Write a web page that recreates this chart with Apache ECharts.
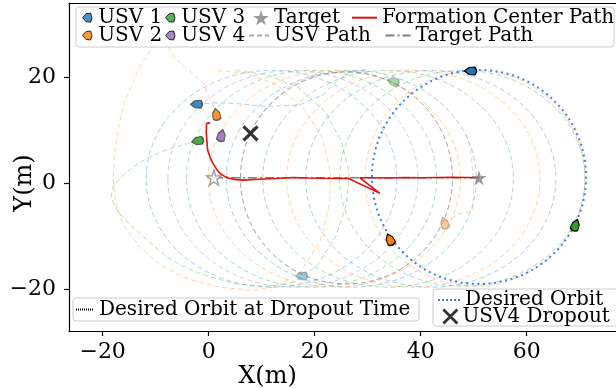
<!DOCTYPE html>
<html><head><meta charset="utf-8">
<script src="https://cdn.jsdelivr.net/npm/echarts@6/dist/echarts.min.js"></script>
<style>html,body{margin:0;padding:0;background:#fff}#c{width:616px;height:389px}</style>
</head><body><div id="c"></div>
<script>
// ---------------- data ----------------
const xTicks = [-20, 0, 20, 40, 60];
const yTicks = [-20, 0, 20];

const targetPath = [[1.0, 1.06], [51.0, 1.06]];
const targetStart = [1.0, 1.06];
const targetEnd = [51.0, 1.06];

const formationPath = [[0.3,11.4],[-0.4,11.3],[-0.45,9.5],[-0.2,6.3],[0.3,4.8],[0.8,3.8],[1.4,2.8],[2.1,1.9],[3.0,1.3],[4.0,0.9],[5.2,0.7],[6.5,0.6],[9.5,0.75],[12.5,0.9],[15.9,1.1],[18.5,1.0],[21.5,0.95],[24.7,0.9],[26.3,0.95],[32.3,-1.9],[28.5,1.06],[31,1.05],[34,1.0],[37,1.1],[40,1.05],[43,1.1],[46,1.15],[49,1.1],[51,1.06]];

const dropoutPoint = [7.9, 9.4];

// orbit extents: [xLeft, xRight, yBottom, yTop]
const desiredOrbit = [[30.8, 71.2, -19.0, 21.4]];
const dropoutOrbit = [[6.0, 46.0, -19.0, 21.0]];

// USV path loops: [xLeft, xRight, yBottom, yTop]
const usv1Loops = [[-11.8,35.5,-19.6,21.3],[3.3,50.5,-19.6,21.3],[18.3,65.5,-19.6,21.3]];
const usv2Loops = [[-0.1,47.5,-19.6,21.3],[14.7,62.5,-19.6,21.3],[29.5,71.0,-19.4,21.3]];
const usv3Loops = [[-4.2,43.0,-19.6,21.3],[10.2,57.5,-19.6,21.3],[24.7,71.0,-19.4,21.3]];
const usv4Loops = [[-7.7,39.5,-19.6,21.3]];

// USV path transient segments
const usv1Track = [[-2.3,14.9],[1,15.2],[4.6,15.1],[10.9,14.5],[17.2,14.8],[21.6,16.7],[24.1,19.2],[26.6,21],[30,21.5]];
const usv2Track = [[1.45,13],[0.5,15.5],[-1.1,18.9],[-3.5,21.2],[-6.1,23.3],[-7.5,25.5],[-8.5,27.2],[-10,26.5],[-11.1,25],[-13,22],[-14.5,18.5],[-15.8,15.7],[-17.1,10],[-17.8,5],[-18,0.6],[-17.5,-4],[-16,-8],[-13,-12],[-9,-15.5],[-4,-18],[2,-19.6],[8,-20.2],[13,-19.5],[17.5,-16.5],[21,-11],[22.8,-4],[23,2],[21.5,8.5],[18,14],[13,18.5],[7,20.8],[1,21.3]];
const usv2Shift = [[44.5,-7.5],[47,-5.8],[49.8,-5.3],[50,-1],[49.6,5],[48.5,10]];
const usv3Track = [[-2.1,8],[-5,7.2],[-8,6.3],[-11.5,4.8],[-14.3,3.1],[-16.5,1.2],[-18,-0.6],[-18.4,-2.5],[-17.8,-4.2],[-16.8,-5.7],[-14.8,-7.9],[-12.4,-10],[-8,-13.8],[-5,-15.6],[-1.7,-17],[4.5,-18.9],[10.9,-19.5],[16,-18.7],[20.5,-15.5],[24,-10],[26,-4],[26.5,2],[25,8],[22,13.5],[17,18],[11,20.5],[5,21.3]];
const usv4Track = [[30,21],[25,21.1],[20,20.4],[15.5,18.5],[11.5,15],[9,11.8],[7.9,9.4]];

// USV marker positions: start, at dropout, final
const usv1Pos = [[-2.3,14.9],[17.5,-17.5],[49.4,21.2]];
const usv2Pos = [[1.45,13.0],[44.5,-7.5],[34.2,-10.6]];
const usv3Pos = [[-2.1,8.0],[34.8,19.2],[69.2,-7.9]];
const usv4Pos = [[2.4,9.0]];
// headings in degrees
const usv1Heading = [180, 180, 180];
const usv2Heading = [100, 110, 115];
const usv3Heading = [190, 160, 70];
const usv4Heading = [75];

// ---------------- styles ----------------
const FONT = 'DejaVu Serif';
const C1 = '#1f77b4', C2 = '#ff7f0e', C3 = '#2ca02c', C4 = '#9467bd';
const BOAT = 'path://M0,5 L4,0.6 L9,0 Q12,5 9,10 L4,9.4 Z';
const STAR = 'path://M50,0 L61,35 L98,35 L68,57 L79,91 L50,70 L21,91 L32,57 L2,35 L39,35 Z';
const XMARK = 'path://M0,0 L10,10 M10,0 L0,10';
const NONE = 'rgba(0,0,0,0)';
const stageStyle = [
  {opacity: 0.85, borderColor: '#444', borderWidth: 1.2},
  {opacity: 0.4, borderColor: '#555', borderWidth: 1.2},
  {opacity: 1, borderColor: '#000', borderWidth: 1.2}
];

function ellipseSeries(name, data, color, opts) {
  return {
    name: name, type: 'custom', data: data, z: opts.z || 1, silent: true,
    encode: {x: [0, 1], y: [2, 3]},
    renderItem: function (params, api) {
      const a = api.coord([api.value(0), api.value(3)]);
      const b = api.coord([api.value(1), api.value(2)]);
      return {
        type: 'ellipse',
        shape: {cx: (a[0] + b[0]) / 2, cy: (a[1] + b[1]) / 2, rx: Math.abs(b[0] - a[0]) / 2, ry: Math.abs(b[1] - a[1]) / 2},
        style: {fill: 'none', stroke: color, lineWidth: opts.width || 1, lineDash: opts.dash, opacity: opts.opacity}
      };
    }
  };
}
function trackSeries(name, data, color) {
  return {name: name, type: 'line', data: data, showSymbol: false, symbol: 'none', silent: true, z: 1,
    lineStyle: {color: color, width: 1, type: [5, 3], opacity: 0.35}};
}
function markerSeries(name, pos, head, color) {
  return {
    name: name, type: 'scatter', symbol: BOAT, symbolSize: [12, 8], z: 6,
    itemStyle: {color: color, borderColor: '#000', borderWidth: 1.2},
    data: pos.map(function (p, i) { return {value: p, symbolRotate: head[i] - 180, itemStyle: stageStyle[i]}; })
  };
}
function legendLine(name, color, width, type, data, z) {
  return {name: name, type: 'line', data: data, symbol: 'none', showSymbol: false, z: z || 2,
    itemStyle: {color: NONE, borderColor: NONE, borderWidth: 0},
    lineStyle: {color: color, width: width, type: type}};
}
const legText = {fontFamily: FONT, fontSize: 20, color: '#000', lineHeight: 20, height: 20};
function leg(name, left, cy, w, h, extra) {
  return {show: true, left: left, top: cy - 10, padding: 0, itemWidth: w, itemHeight: h, selectedMode: false, z: 10,
    data: [Object.assign({name: name}, extra || {})], textStyle: legText};
}
function fmt(v) { return v < 0 ? '\u2212' + Math.abs(v) : String(v); }

const chart = echarts.init(document.getElementById('c'), null, {renderer: 'canvas'});
chart.setOption({
  animation: false,
  backgroundColor: '#fff',
  grid: {left: 69, right: 0, top: 3, bottom: 58},
  xAxis: [{
    type: 'value', min: -26.35, max: 76.85,
    axisLine: {onZero: false, lineStyle: {color: '#000', width: 1.2}},
    axisTick: {customValues: xTicks, length: 5, lineStyle: {color: '#000', width: 1.2}},
    axisLabel: {customValues: xTicks, formatter: fmt, margin: 10, fontSize: 22, fontFamily: FONT, color: '#000'},
    splitLine: {show: false}
  }, {
    type: 'value', position: 'top', min: -26.35, max: 76.85,
    axisLine: {onZero: false, lineStyle: {color: '#000', width: 1.2}},
    axisTick: {show: false}, axisLabel: {show: false}, splitLine: {show: false}
  }],
  yAxis: {
    type: 'value', min: -27.87, max: 34.02,
    axisLine: {onZero: false, lineStyle: {color: '#000', width: 1.2}},
    axisTick: {customValues: yTicks, length: 5, lineStyle: {color: '#000', width: 1.2}},
    axisLabel: {customValues: yTicks, formatter: fmt, margin: 13, fontSize: 22, fontFamily: FONT, color: '#000'},
    splitLine: {show: false}
  },
  legend: [
    leg('USV 1', 82, 17.7, 12, 9, {itemStyle: {borderWidth: 1}}),
    leg('USV 2', 82, 35.5, 12, 9, {itemStyle: {borderWidth: 1}}),
    leg('USV 3', 165, 17.7, 12, 9, {itemStyle: {borderWidth: 1}}),
    leg('USV 4', 165, 35.5, 12, 9, {itemStyle: {borderWidth: 1}}),
    leg('Target', 253, 17.7, 16, 16),
    leg('USV Path', 248, 35.5, 20, 10),
    leg('Formation Center Path', 351, 17.7, 25, 10),
    leg('Target Path', 384.5, 35.5, 25, 10),
    leg('Desired Orbit at Dropout Time', 75, 309.5, 18, 10),
    leg('Desired Orbit', 437, 300, 22, 10),
    leg('USV4 Dropout', 442, 316.5, 14, 14, {itemStyle: {borderWidth: 2.8}})
  ],
  graphic: [
    {type: 'rect', z: 9, shape: {x: 76, y: 7, width: 538, height: 40, r: 3}, style: {fill: 'rgba(255,255,255,0.85)', stroke: '#cccccc', lineWidth: 1}},
    {type: 'rect', z: 9, shape: {x: 73, y: 298, width: 346, height: 23, r: 3}, style: {fill: 'rgba(255,255,255,0.85)', stroke: '#cccccc', lineWidth: 1}},
    {type: 'rect', z: 9, shape: {x: 433, y: 289, width: 200, height: 37, r: 3}, style: {fill: 'rgba(255,255,255,0.85)', stroke: '#cccccc', lineWidth: 1}},
    {type: 'text', z: 9, x: 267.5, y: 377, style: {text: 'X(m)', font: '24px "DejaVu Serif"', fill: '#000', align: 'center', verticalAlign: 'middle'}},
    {type: 'text', z: 9, x: 25, y: 183, rotation: Math.PI / 2, style: {text: 'Y(m)', font: '24px "DejaVu Serif"', fill: '#000', align: 'center', verticalAlign: 'middle'}}
  ],
  series: [
    ellipseSeries('_l1', usv1Loops, C1, {dash: [5, 3], opacity: 0.36}),
    ellipseSeries('_l2', usv2Loops, C2, {dash: [5, 3], opacity: 0.36}),
    ellipseSeries('_l3', usv3Loops, C3, {dash: [5, 3], opacity: 0.36}),
    ellipseSeries('_l4', usv4Loops, C4, {dash: [5, 3], opacity: 0.36}),
    trackSeries('_t1', usv1Track, C1),
    trackSeries('_t2', usv2Track, C2),
    trackSeries('_t2b', usv2Shift, C2),
    trackSeries('_t3', usv3Track, C3),
    trackSeries('_t4', usv4Track, C4),
    ellipseSeries('_dropOrbit', dropoutOrbit, '#555', {dash: [5, 3], opacity: 0.55, z: 2}),
    ellipseSeries('_desOrbit', desiredOrbit, '#3d7fe8', {dash: [2, 3.6], width: 2, opacity: 1, z: 2}),
    legendLine('USV Path', '#aaaaaa', 1.5, [5, 3], []),
    legendLine('Desired Orbit at Dropout Time', '#000', 1, [1, 1], []),
    legendLine('Desired Orbit', '#3d7fe8', 2, [2, 2], []),
    legendLine('Target Path', '#808080', 1.6, [9, 3, 2, 3], targetPath, 3),
    legendLine('Formation Center Path', '#e3120b', 1.6, 'solid', formationPath, 4),
    markerSeries('USV 1', usv1Pos, usv1Heading, C1),
    markerSeries('USV 2', usv2Pos, usv2Heading, C2),
    markerSeries('USV 3', usv3Pos, usv3Heading, C3),
    markerSeries('USV 4', usv4Pos, usv4Heading, C4),
    {name: 'Target', type: 'scatter', symbol: STAR, symbolSize: 15, z: 6,
      itemStyle: {color: '#808080'},
      data: [{value: targetStart, itemStyle: {color: '#ffffff', borderColor: '#808080', borderWidth: 1.3}}, {value: targetEnd}]},
    {name: 'USV4 Dropout', type: 'scatter', symbol: XMARK, symbolSize: 14, z: 6,
      itemStyle: {color: NONE, borderColor: '#000', borderWidth: 3.2},
      data: [dropoutPoint]}
  ]
});
</script></body></html>
